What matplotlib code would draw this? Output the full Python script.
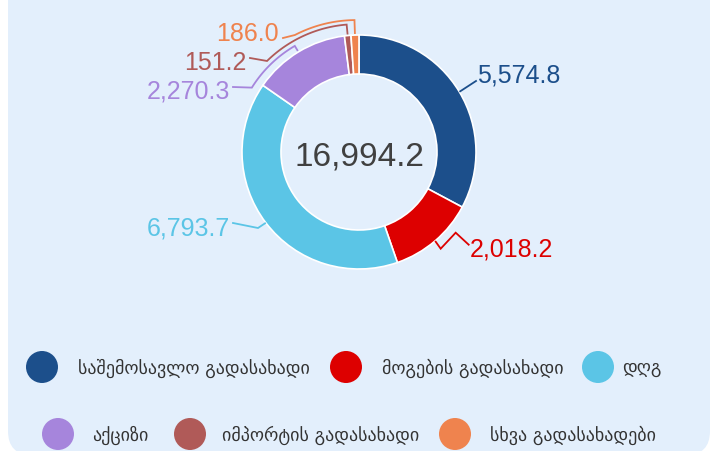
import numpy as np
import matplotlib
matplotlib.use('Agg')
import matplotlib.pyplot as plt
from matplotlib.patches import FancyBboxPatch, Circle

categories = ['საშემოსავლო გადასახადი', 'მოგების გადასახადი', 'დღგ',
              'აქციზი', 'იმპორტის გადასახადი', 'სხვა გადასახადები']
values = [5574.8, 2018.2, 6793.7, 2270.3, 151.2, 186.0]
colors = ['#1c4f8b', '#dd0000', '#5bc5e6', '#a685dc', '#b05a58', '#ef834e']
total = sum(values)

W, H = 719, 452
cx, cy = 359, H - 153
R, ring = 117, 39

fig = plt.figure(figsize=(W / 100, H / 100), dpi=100, facecolor='white')
ax = fig.add_axes([0, 0, 1, 1])

# panel background
ax.add_patch(FancyBboxPatch((8, -4), 702, H + 40, boxstyle='round,pad=0,rounding_size=24',
                            fc='#e3effc', ec='none', zorder=0))

wedges, _ = ax.pie(values, colors=colors, center=(cx, cy), radius=R, startangle=90,
                   counterclock=False,
                   wedgeprops=dict(width=ring, edgecolor='white', linewidth=1.2))


def polar(t, r):
    a = np.radians(t)
    return cx + r * np.cos(a), cy + r * np.sin(a)


def arc(t0, t1, r0, r1, n=40):
    return [polar(t, r) for t, r in zip(np.linspace(t0, t1, n), np.linspace(r0, r1, n))]


def px(x, y):
    return x, H - y


cum = np.cumsum([0] + values[:-1])
mids = [((90 - 360 * (c + v / 2) / total) + 180) % 360 - 180 for c, v in zip(cum, values)]

paths = []
# 0 blue
paths.append([polar(mids[0], R + 1), px(476, 82)])
# 1 red zig-zag
x0, y0 = polar(mids[1], R + 1)
paths.append([(x0, y0), (x0 + 5, y0 - 7), (x0 + 20, y0 + 9), (x0 + 33, y0 - 3)])
# 2 light blue
paths.append([polar(mids[2], R + 1), px(258, 229), px(233, 224)])
# 3 purple
paths.append([polar(mids[3], R + 2)] + arc(mids[3], 149, 124, 125) + [px(233, 88)])
# 4 brown
paths.append([polar(mids[4], R + 2)] + arc(mids[4], 135.3, 128, 129.4) + [px(250, 59)])
# 5 orange
paths.append([polar(mids[5], R + 2)] + arc(mids[5], 118.7, 132, 133.4) + [px(283, 39)])

for p, c in zip(paths, colors):
    xs, ys = zip(*p)
    ax.plot(xs, ys, color=c, lw=1.3, solid_joinstyle='miter', zorder=3)

label_pos = [(477, 73.5, 'left'), (470, 248, 'left'), (230, 227, 'right'),
             (230, 89.5, 'right'), (247, 61, 'right'), (279, 32, 'right')]
for v, c, (x, y, ha) in zip(values, colors, label_pos):
    ax.text(x, H - y - 9, f'{v:,.1f}', color=c, fontsize=18, ha=ha, va='baseline',
            family='Liberation Sans')

ax.text(cx, H - 165, f'{total:,.1f}', color='#404040', fontsize=24, ha='center',
        va='baseline', family='Liberation Sans')

# legend
leg_marker = [(42, 368), (346, 368), (598, 368), (58, 435), (190, 435), (455, 435)]
leg_text = [78, 382, 622, 92, 222, 490]
for name, c, (mx, my), tx in zip(categories, colors, leg_marker, leg_text):
    ax.add_patch(Circle(px(mx, my), 16, fc=c, ec='none', zorder=3))
    ax.text(tx, H - my, name, color='#333333', fontsize=13, ha='left', va='center',
            family='DejaVu Sans')

ax.set_xlim(0, W)
ax.set_ylim(0, H)
ax.set_aspect('equal')
ax.axis('off')
fig.savefig('out.png', dpi=100, facecolor='white')
